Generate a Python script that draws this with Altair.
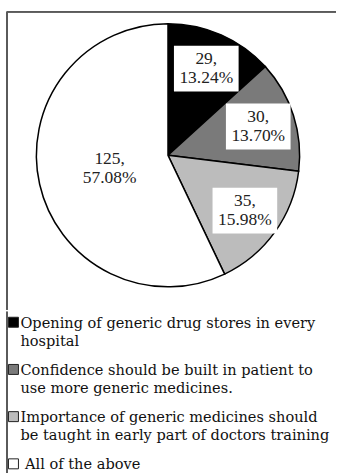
import altair as alt
import pandas as pd

categories = [
    "Opening of  generic drug stores in every hospital",
    "Confidence should be built in patient to use more generic medicines.",
    "Importance of generic medicines should be taught in early part of doctors training",
    "All of the above",
]
legend_labels = [
    "Opening of  generic drug stores in every\nhospital",
    "Confidence should be built in patient to\nuse more generic medicines.",
    "Importance of generic medicines should\nbe taught in early part of doctors training",
    "\u200b\u00a0All of the above",
]
counts = [29, 30, 35, 125]
colors = ["#000000", "#7a7a7a", "#bcbcbc", "#ffffff"]

df = pd.DataFrame({
    "idx": list(range(len(categories))),
    "cat": categories,
    "legend": legend_labels,
    "count": counts,
})

LABEL_FONT = "Liberation Serif"
LEGEND_FONT = "DejaVu Serif"
W, H_PIE, H_LEG = 337, 310, 163

color_scale = alt.Scale(domain=categories, range=colors)

base = alt.Chart(df).transform_joinaggregate(
    total="sum(count)"
).transform_window(
    cum="sum(count)", sort=[alt.SortField("idx")], frame=[None, 0]
).transform_calculate(
    mid="(datum.cum - datum.count / 2) / datum.total * 2 * PI",
    rr="datum.count / datum.total > 0.5 ? 60 : 95",
    lbl="datum.count + ',\\n' + format(datum.count / datum.total, '.2%')",
).transform_calculate(
    lx="datum.rr * sin(datum.mid)",
    ly="datum.rr * cos(datum.mid)",
)

xs = alt.Scale(domain=[-W / 2, W / 2])
ys = alt.Scale(domain=[-H_PIE / 2, H_PIE / 2])

arc = base.mark_arc(outerRadius=132, stroke="#000000", strokeWidth=1.5).encode(
    theta=alt.Theta("count:Q", stack=True),
    order=alt.Order("idx:Q"),
    color=alt.Color("cat:N", scale=color_scale, legend=None),
)

boxes = base.transform_filter("datum.count / datum.total < 0.5").mark_point(
    shape="M-1.41,-1H1.41V1H-1.41Z", filled=True, fill="#ffffff", opacity=1,
    size=2116, strokeWidth=0,
).encode(
    x=alt.X("lx:Q", scale=xs, axis=None),
    y=alt.Y("ly:Q", scale=ys, axis=None),
)

labels = base.mark_text(
    font=LABEL_FONT, fontSize=17.5, lineBreak="\n", lineHeight=19, color="#222222",
    baseline="middle", align="center", dy=-9.5,
).encode(
    x=alt.X("lx:Q", scale=xs, axis=None),
    y=alt.Y("ly:Q", scale=ys, axis=None),
    text="lbl:N",
)

border_top = base.mark_rule(color="#5a5a5a", strokeWidth=1.5).encode(
    x=alt.value(7), x2=alt.value(W), y=alt.value(11)
)
border_left_a = base.mark_rule(color="#5a5a5a", strokeWidth=1.5).encode(
    x=alt.value(7), y=alt.value(11), y2=alt.value(H_PIE)
)

pie = alt.layer(arc, boxes, labels, border_top, border_left_a).properties(
    width=W, height=H_PIE
)

leg_y = alt.Y("cat:N", scale=alt.Scale(type="point", domain=categories,
                                        range=[16, 158], padding=0), axis=None)

leg_text = alt.Chart(df).mark_text(
    font=LEGEND_FONT, fontSize=14.6, lineBreak="\n", lineHeight=18, color="#111111",
    align="left", baseline="alphabetic", x=20.5,
).encode(y=leg_y, text="legend:N")

leg_sym = alt.Chart(df).mark_point(
    shape="square", filled=True, size=100, stroke="#222222", strokeWidth=1,
    opacity=1, x=13.5, yOffset=-5.5,
).encode(
    y=leg_y,
    fill=alt.Fill("cat:N", scale=color_scale, legend=None),
)

border_left_b = alt.Chart(df).mark_rule(color="#5a5a5a", strokeWidth=1.5).encode(
    x=alt.value(7), y=alt.value(0), y2=alt.value(H_LEG)
)

legend = alt.layer(leg_text, leg_sym, border_left_b).properties(
    width=W, height=H_LEG
)

chart = alt.vconcat(pie, legend, spacing=0).properties(
    padding=0, background="#ffffff"
).configure_view(stroke=None).configure_concat(spacing=0)

chart.save("out.html", embed_options={"renderer": "svg", "actions": False})
